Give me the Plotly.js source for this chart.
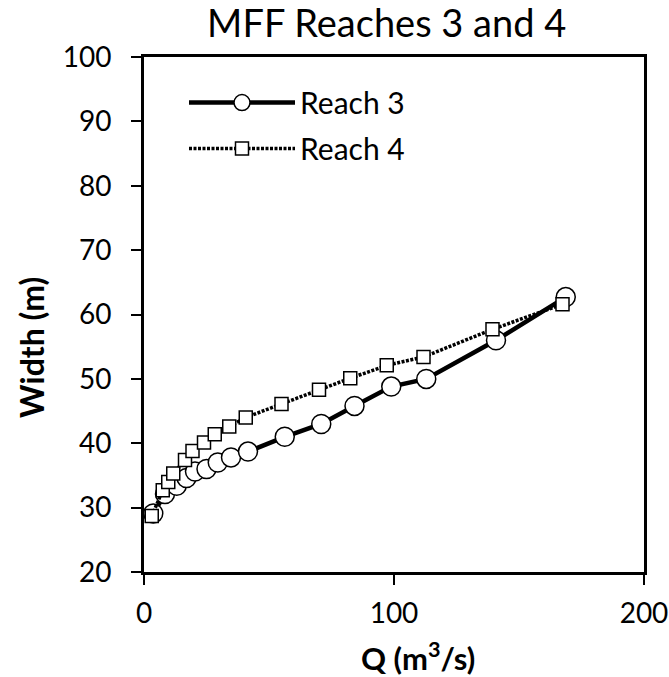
<!DOCTYPE html>
<html>
<head>
<meta charset="utf-8">
<script src="https://cdn.plot.ly/plotly-3.0.1.min.js"></script>
<style>
  html, body { margin: 0; padding: 0; background: #fff; }
  #plot1 { width: 669px; height: 677px; }
</style>
</head>
<body>
<div id="plot1"></div>
<script>
///////////////////////////////////////////////  data  /////////////////////////////////////////////////////////
var reach3Q = [3.7, 8.4, 13.1, 17.0, 20.4, 25.0, 29.5, 34.8, 41.6, 56.3, 70.9, 84.2, 98.9, 112.9, 140.8, 168.7];
var reach3W = [29.1, 32.1, 33.4, 34.6, 35.6, 36.0, 37.0, 37.8, 38.7, 41.0, 43.0, 45.8, 48.8, 50.0, 56.0, 62.7];

var reach4Q = [3.1, 7.5, 9.7, 11.7, 16.4, 19.4, 24.0, 28.3, 34.1, 40.7, 55.0, 70.0, 82.5, 97.1, 111.8, 139.4, 167.4];
var reach4W = [28.7, 32.7, 34.0, 35.3, 37.4, 38.8, 40.1, 41.4, 42.6, 44.0, 46.1, 48.3, 50.1, 52.1, 53.4, 57.7, 61.6];

var xTicks = [0, 100, 200];
var yTicks = [20, 30, 40, 50, 60, 70, 80, 90, 100];

var chartTitle = 'MFF Reaches 3 and 4';
var xTitle = '<b>Q (m<sup>3</sup>/s)</b>';
var yTitle = '<b>Width (m)</b>';

///////////////////////////////////////////////  plot  /////////////////////////////////////////////////////////
var fontFamily = 'Lato, "Open Sans", sans-serif';

var trace3 = {
  x: reach3Q,
  y: reach3W,
  name: 'Reach 3',
  legendgroup: 'r3',
  type: 'scatter',
  mode: 'lines+markers',
  line: {color: '#000', width: 4.5},
  marker: {symbol: 'circle', size: 19, color: '#fff', line: {color: '#000', width: 1.5}}
};

var trace4 = {
  x: reach4Q,
  y: reach4W,
  name: 'Reach 4',
  legendgroup: 'r4',
  type: 'scatter',
  mode: 'lines+markers',
  line: {color: '#000', width: 3.5, dash: '3px,1.5px'},
  marker: {symbol: 'square', size: 13, color: '#fff', line: {color: '#000', width: 1.5}}
};

var axisCommon = {
  showgrid: false,
  zeroline: false,
  showline: true,
  linecolor: '#000',
  linewidth: 3,
  mirror: true,
  ticks: 'outside',
  ticklen: 10,
  tickwidth: 2,
  tickcolor: '#000',
  tickfont: {family: fontFamily, size: 28, color: '#000'}
};

var layoutChart = {
  width: 669,
  height: 677,
  margin: {l: 144, r: 25, t: 57, b: 105},
  paper_bgcolor: '#fff',
  plot_bgcolor: '#fff',
  title: {
    text: chartTitle,
    font: {family: fontFamily, size: 38, color: '#000'},
    x: 0.578, xanchor: 'center', yref: 'container', y: 0.965, yanchor: 'middle'
  },
  xaxis: Object.assign({}, axisCommon, {range: [0, 200], tickvals: xTicks, ticklabelstandoff: 4}),
  yaxis: Object.assign({}, axisCommon, {range: [20, 100], tickvals: yTicks, ticklabelstandoff: 14}),
  annotations: [
    {text: xTitle, xref: 'paper', yref: 'paper', x: 0.548, y: -0.165,
     xanchor: 'center', yanchor: 'middle', showarrow: false,
     font: {family: fontFamily, size: 31, color: '#000'}},
    {text: yTitle, xref: 'paper', yref: 'paper', x: -0.224, y: 0.435,
     xanchor: 'center', yanchor: 'middle', showarrow: false, textangle: -90,
     font: {family: fontFamily, size: 32, color: '#000'}}
  ],
  showlegend: true,
  legend: {
    x: 0.08, y: 0.962, xanchor: 'left', yanchor: 'top',
    bgcolor: 'rgba(0,0,0,0)',
    font: {family: fontFamily, size: 30, color: '#000'},
    itemwidth: 106,
    traceorder: 'grouped',
    tracegroupgap: 4
  }
};

Plotly.newPlot('plot1', [trace3, trace4], layoutChart, {displayModeBar: false, staticPlot: true});
</script>
</body>
</html>
